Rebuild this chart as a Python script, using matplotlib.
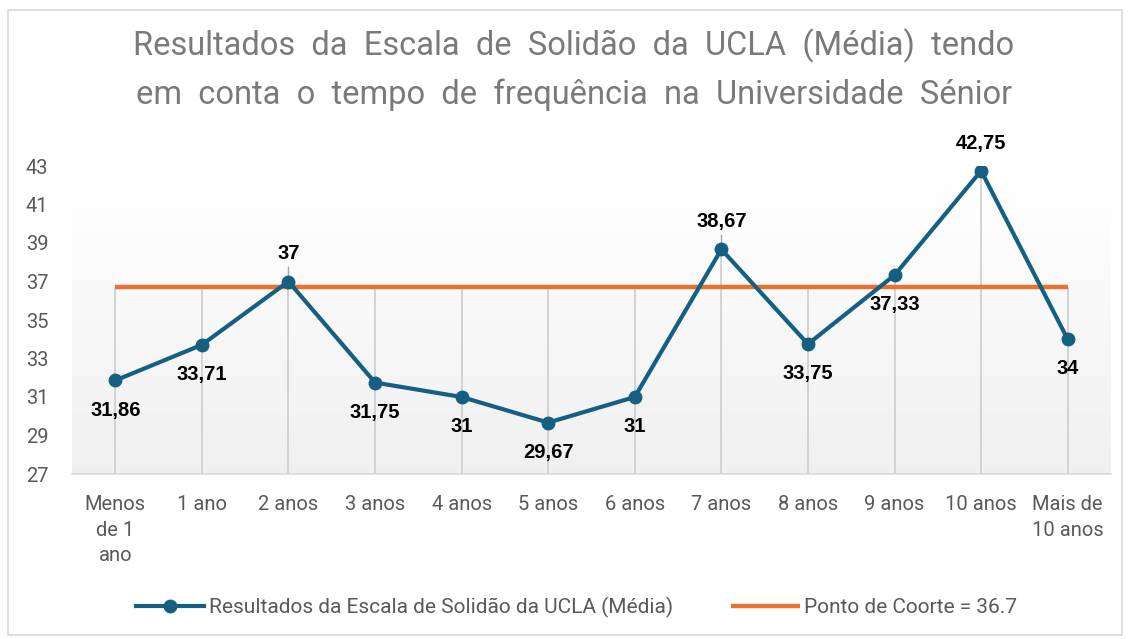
import numpy as np
import matplotlib.pyplot as plt
from matplotlib.patches import Rectangle

categories = ["Menos\nde 1\nano", "1 ano", "2 anos", "3 anos", "4 anos", "5 anos",
              "6 anos", "7 anos", "8 anos", "9 anos", "10 anos", "Mais de\n10 anos"]
ucla_mean = [31.86, 33.71, 37, 31.75, 31, 29.67, 31, 38.67, 33.75, 37.33, 42.75, 34]
value_labels = ["31,86", "33,71", "37", "31,75", "31", "29,67", "31", "38,67",
                "33,75", "37,33", "42,75", "34"]
label_above = [False, False, True, False, False, False, False, True, False, False, True, False]
cutoff = 36.7
y_ticks = list(range(27, 44, 2))

blue = "#156082"
orange = "#E97132"
gray_text = "#595959"

plt.rcParams['font.family'] = ['Roboto', 'DejaVu Sans']

fig = plt.figure(figsize=(11.3, 6.39), dpi=100)
fig.patches.append(Rectangle((8 / 1130, 4 / 639), 1114 / 1130, 625 / 639,
                             transform=fig.transFigure, fill=False,
                             edgecolor="#d9d9d9", linewidth=1.2))

ax = fig.add_axes([72 / 1130, (639 - 474) / 639, (1111 - 72) / 1130, (474 - 166) / 639])
x = np.arange(len(categories))
ax.set_xlim(-0.5, len(categories) - 0.5)
ax.set_ylim(27, 43)

# gradient background (white top -> light gray bottom)
grad = np.linspace(1.0, 0.0, 256).reshape(-1, 1)
top_c = np.array([1.0, 1.0, 1.0])
bot_c = np.array([0.94, 0.94, 0.94])
img = grad[..., None] * top_c + (1 - grad[..., None]) * bot_c
ax.imshow(img, extent=(-0.5, len(categories) - 0.5, 27, 41.8), aspect="auto",
          zorder=0, origin="upper")

# drop lines
tops = [max(v, cutoff) for v in ucla_mean]
ax.vlines(x, 27, tops, color="#d0d0d0", linewidth=1.3, zorder=1)

ax.plot(x, [cutoff] * len(x), color=orange, linewidth=3.2, zorder=2,
        solid_capstyle="butt", label="Ponto de Coorte = 36.7")
ax.plot(x, ucla_mean, color=blue, linewidth=3, marker="o", markersize=9,
        zorder=3, label="Resultados da Escala de Solidão da UCLA (Média)")

for xi, v, lab, above in zip(x, ucla_mean, value_labels, label_above):
    if above:
        ax.vlines(xi, v, v + 0.8, color="#a6a6a6", linewidth=1, zorder=1)
        ax.text(xi, v + 0.95, lab, ha="center", va="bottom", fontsize=14.5,
                fontweight="bold", color="black", family="Liberation Sans")
    else:
        ax.text(xi, v - 1.05, lab, ha="center", va="top", fontsize=14.5,
                fontweight="bold", color="black", family="Liberation Sans")

ax.set_yticks(y_ticks)
ax.set_xticks(x)
ax.set_xticklabels(categories, fontsize=14.5, color=gray_text, linespacing=1.45, va="top")
ax.tick_params(axis="y", length=0, labelsize=14.5, labelcolor=gray_text, pad=17)
ax.tick_params(axis="x", length=0, pad=15)
for s in ["top", "right", "left"]:
    ax.spines[s].set_visible(False)
ax.spines["bottom"].set_color("#d9d9d9")
ax.spines["bottom"].set_linewidth(1.2)

fig.text(0.508, 0.955, "Resultados  da  Escala  de  Solidão  da  UCLA  (Média)  tendo\n"
         "em  conta  o  tempo  de  frequência  na  Universidade  Sénior",
         ha="center", va="top", fontsize=23.5, color="#7a7a7a", linespacing=1.6)

handles, labels = ax.get_legend_handles_labels()
fig.legend(handles[::-1], labels[::-1], loc="center", bbox_to_anchor=(0.51, 0.05),
           ncol=2, frameon=False, fontsize=15, labelcolor=gray_text,
           handlelength=3.3, columnspacing=2.8, handletextpad=0.2)

fig.savefig("out.png", dpi=100)
